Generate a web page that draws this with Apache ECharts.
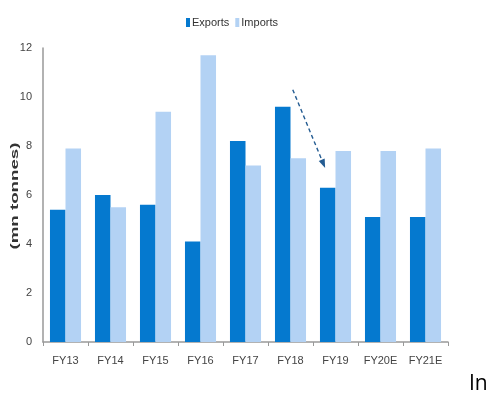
<!DOCTYPE html>
<html>
<head>
<meta charset="utf-8">
<script src="https://cdn.jsdelivr.net/npm/echarts@6/dist/echarts.min.js"></script>
<style>
  html, body { margin: 0; padding: 0; background: #fff; }
  #chart { width: 490px; height: 395px; }
</style>
</head>
<body>
<div id="chart"></div>
<script>
// Fiscal years shown on the category axis
const categories = ['FY13', 'FY14', 'FY15', 'FY16', 'FY17', 'FY18', 'FY19', 'FY20E', 'FY21E'];
// Volumes in million tonnes
const exportsData = [5.4, 6.0, 5.6, 4.1, 8.2, 9.6, 6.3, 5.1, 5.1];
const importsData = [7.9, 5.5, 9.4, 11.7, 7.2, 7.5, 7.8, 7.8, 7.9];
// Y axis range
const yMin = 0, yMax = 12, yStep = 2;
// Trend arrow from FY18 down to FY19 (category, value, offset within the band)
const arrowFrom = ['FY18', 10.3, 0.05];
const arrowTo = ['FY19', 7.1, -0.23];

const chart = echarts.init(document.getElementById('chart'), null, { renderer: 'canvas' });

const axisFont = 'Liberation Sans, Arial, sans-serif';

chart.setOption({
  animation: false,
  backgroundColor: '#ffffff',
  grid: { left: 43, right: 42, top: 48, bottom: 53, containLabel: false },
  legend: {
    top: 12,
    left: 181,
    itemWidth: 4,
    itemHeight: 9,
    itemGap: 6,
    icon: 'rect',
    textStyle: { fontFamily: axisFont, fontSize: 11, color: '#333', padding: [0, 0, 0, -3] },
    data: ['Exports', 'Imports']
  },
  xAxis: {
    type: 'category',
    data: categories,
    axisLine: { lineStyle: { color: '#999', width: 1.5 } },
    axisTick: { show: true, length: 4, lineStyle: { color: '#999' } },
    axisLabel: { fontFamily: axisFont, fontSize: 11, color: '#444', margin: 13 }
  },
  yAxis: {
    type: 'value',
    min: yMin,
    max: yMax,
    interval: yStep,
    axisLine: { show: true, lineStyle: { color: '#999', width: 1.5 } },
    axisTick: { show: false },
    splitLine: { show: false },
    axisLabel: { fontFamily: axisFont, fontSize: 11, color: '#444', margin: 11 }
  },
  series: [
    {
      name: 'Exports',
      type: 'bar',
      data: exportsData,
      barGap: '0%',
      barCategoryGap: '31%',
      itemStyle: { color: '#0579CF' }
    },
    {
      name: 'Imports',
      type: 'bar',
      data: importsData,
      barGap: '0%',
      barCategoryGap: '31%',
      itemStyle: { color: '#B3D2F4' }
    }
  ]
});

// Place the dashed trend arrow and the axis title using the chart's own scales
function bandPoint(p) {
  const cx = chart.convertToPixel({ xAxisIndex: 0 }, p[0]);
  const y = chart.convertToPixel({ yAxisIndex: 0 }, p[1]);
  const band = chart.getModel().getComponent('xAxis', 0).axis.getBandWidth();
  return [cx + p[2] * band, y];
}
const a = bandPoint(arrowFrom);
const b = bandPoint(arrowTo);
const ang = Math.atan2(b[1] - a[1], b[0] - a[0]);
const headLen = 9, headHalf = 3.2;
const shaftEnd = [b[0] - Math.cos(ang) * headLen * 0.8, b[1] - Math.sin(ang) * headLen * 0.8];
const base = [b[0] - Math.cos(ang) * headLen, b[1] - Math.sin(ang) * headLen];
const nx = -Math.sin(ang), ny = Math.cos(ang);

chart.setOption({
  graphic: [
    {
      type: 'line',
      shape: { x1: a[0], y1: a[1], x2: shaftEnd[0], y2: shaftEnd[1] },
      style: { stroke: '#245C92', lineWidth: 1.4, lineDash: [4, 3] },
      silent: true
    },
    {
      type: 'polygon',
      shape: { points: [b, [base[0] + nx * headHalf, base[1] + ny * headHalf], [base[0] - nx * headHalf, base[1] - ny * headHalf]] },
      style: { fill: '#245C92' },
      silent: true
    },
    {
      type: 'text',
      x: 15,
      y: 196,
      rotation: Math.PI / 2,
      scaleX: 1.7,
      style: {
        text: '(mn tonnes)',
        fontFamily: axisFont,
        fontSize: 11,
        fontWeight: 'bold',
        fill: '#333',
        align: 'center',
        verticalAlign: 'middle'
      },
      silent: true
    },
    {
      type: 'text',
      x: 469,
      y: 374,
      style: {
        text: 'In',
        fontFamily: 'Open Sans, Liberation Sans, sans-serif',
        fontSize: 21,
        fill: '#000'
      },
      silent: true
    }
  ]
});
</script>
</body>
</html>
